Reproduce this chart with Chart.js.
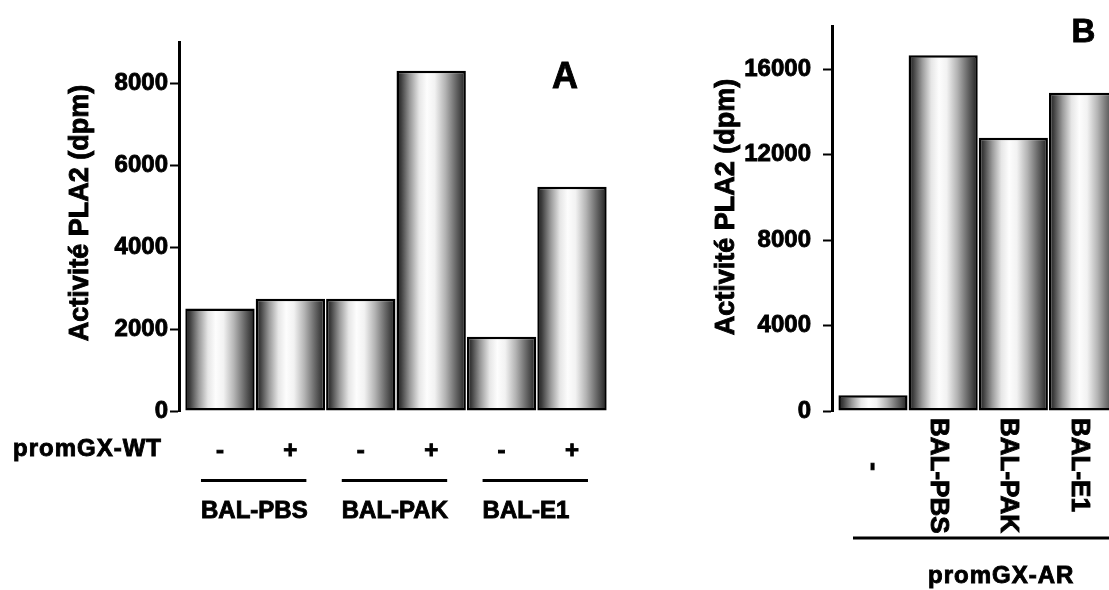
<!DOCTYPE html>
<html>
<head>
<meta charset="utf-8">
<script src="https://cdn.jsdelivr.net/npm/chart.js@4.4.1/dist/chart.umd.min.js"></script>
<style>
  html, body { margin: 0; padding: 0; background: #fff; overflow: hidden; }
  #wrap { position: relative; width: 1109px; height: 590px; background: #fff; }
  #cA { position: absolute; left: 0; top: 0; }
  #cB { position: absolute; left: 680px; top: 0; }
</style>
</head>
<body>
<div id="wrap">
  <canvas id="cA" width="620" height="590"></canvas>
  <canvas id="cB" width="429" height="590"></canvas>
</div>
<script>
// ---------- DATA ----------
const yTitle = 'Activité PLA2 (dpm)';
// Panel A
const aPanelLabel = 'A';
const aRowLabel = 'promGX-WT';
const aPromWT = ['-', '+', '-', '+', '-', '+'];
const aGroups = ['BAL-PBS', 'BAL-PAK', 'BAL-E1'];
const aValues = [2500, 2740, 2740, 8300, 1810, 5470];
const aTicks = [0, 2000, 4000, 6000, 8000];
const aMax = 9000;
// Panel B
const bPanelLabel = 'B';
const bCategories = ['-', 'BAL-PBS', 'BAL-PAK', 'BAL-E1'];
const bValues = [740, 16650, 12790, 14900];
const bTicks = [0, 4000, 8000, 12000, 16000];
const bMax = 18000;
const bAxisLabel = 'promGX-AR';

// ---------- helpers ----------
const FONT = '"Liberation Sans", Arial, sans-serif';
const STROKE = 0.9;
Chart.defaults.font.family = FONT;
Chart.defaults.color = '#000';

function barGradient(c) {
  const chart = c.chart;
  if (!chart.chartArea || c.type !== 'data') return '#cccccc';
  const xs = chart.scales.x;
  const cx = xs.getPixelForValue(c.dataIndex);
  const w = Math.abs(xs.getPixelForValue(1) - xs.getPixelForValue(0));
  const g = chart.ctx.createLinearGradient(cx - w / 2, 0, cx + w / 2, 0);
  g.addColorStop(0.00, '#1c1c1c');
  g.addColorStop(0.07, '#3c3c3c');
  g.addColorStop(0.20, '#9a9a9a');
  g.addColorStop(0.33, '#e6e6e6');
  g.addColorStop(0.44, '#fdfdfd');
  g.addColorStop(0.55, '#f2f2f2');
  g.addColorStop(0.70, '#b4b4b4');
  g.addColorStop(0.86, '#626262');
  g.addColorStop(1.00, '#1c1c1c');
  return g;
}

function makeOptions(cfg) {
  return {
    responsive: false,
    animation: false,
    devicePixelRatio: 1,
    layout: { padding: { top: cfg.top, bottom: 590 - 411, left: 0, right: cfg.right } },
    plugins: { legend: { display: false }, tooltip: { enabled: false } },
    scales: {
      x: {
        type: 'linear', display: false, offset: false, min: cfg.xmin, max: cfg.xmax,
        grid: { display: false, offset: false }
      },
      y: {
        min: 0, max: cfg.ymax,
        afterFit: (s) => { s.width = cfg.axisX; },
        afterBuildTicks: (s) => { s.ticks = cfg.ticks.map(v => ({ value: v })); },
        border: { display: true, color: '#000', width: 3 },
        grid: { display: true, drawOnChartArea: false, drawTicks: true, tickLength: 9, tickColor: '#000', tickWidth: 2, color: '#000' },
        ticks: {
          padding: cfg.tickPad, color: '#000',
          textStrokeColor: '#000', textStrokeWidth: STROKE,
          font: { family: FONT, size: 24, weight: 'bold' },
          callback: (v) => String(v)
        }
      }
    }
  };
}

function txt(ctx, s, x, y) {
  ctx.fillText(s, x, y);
  ctx.strokeText(s, x, y);
}

function drawRotatedTitle(ctx, x, y) {
  ctx.save();
  ctx.font = 'bold 27px ' + FONT;
  ctx.fillStyle = '#000';
  ctx.strokeStyle = '#000';
  ctx.lineWidth = STROKE;
  ctx.translate(x, y);
  ctx.rotate(-Math.PI / 2);
  ctx.textAlign = 'center';
  ctx.textBaseline = 'middle';
  txt(ctx, yTitle, 0, 0);
  ctx.restore();
}

// ---------- Panel A ----------
const extrasA = {
  id: 'extrasA',
  afterDraw(chart) {
    const ctx = chart.ctx, xs = chart.scales.x;
    drawRotatedTitle(ctx, 81, 213);
    ctx.save();
    ctx.fillStyle = '#000';
    ctx.strokeStyle = '#000';
    ctx.lineWidth = STROKE;
    ctx.font = 'bold 36px ' + FONT;
    ctx.textAlign = 'center';
    ctx.textBaseline = 'alphabetic';
    txt(ctx, aPanelLabel, 565, 88);
    ctx.font = 'bold 24px ' + FONT;
    ctx.letterSpacing = '1px';
    ctx.textAlign = 'left';
    txt(ctx, aRowLabel, 13, 456);
    ctx.letterSpacing = '0px';
    ctx.textAlign = 'center';
    aPromWT.forEach((s, i) => txt(ctx, s, xs.getPixelForValue(i), 458));
    aGroups.forEach((g, k) => {
      const x1 = xs.getPixelForValue(2 * k) - 19;
      const x2 = xs.getPixelForValue(2 * k + 1) + 16;
      ctx.lineWidth = 3;
      ctx.beginPath();
      ctx.moveTo(x1, 480.5);
      ctx.lineTo(x2, 480.5);
      ctx.stroke();
      ctx.lineWidth = STROKE;
      ctx.textAlign = 'left';
      txt(ctx, g, x1, 518);
    });
    ctx.restore();
  }
};

new Chart(document.getElementById('cA'), {
  type: 'bar',
  data: {
    datasets: [{
      data: aValues.map((v, i) => ({ x: i, y: v })),
      backgroundColor: barGradient,
      borderColor: '#000',
      borderWidth: 2.5,
      borderSkipped: false,
      barPercentage: 0.985,
      categoryPercentage: 1
    }]
  },
  options: makeOptions({ top: 42, right: 10, xmin: -0.582, xmax: 5.54, ymax: aMax, axisX: 179, ticks: aTicks, tickPad: 2 }),
  plugins: [extrasA]
});

// ---------- Panel B ----------
const extrasB = {
  id: 'extrasB',
  afterDraw(chart) {
    const ctx = chart.ctx, xs = chart.scales.x;
    drawRotatedTitle(ctx, 727 - 680, 207);
    ctx.save();
    ctx.fillStyle = '#000';
    ctx.strokeStyle = '#000';
    ctx.lineWidth = STROKE;
    ctx.font = 'bold 33px ' + FONT;
    ctx.textAlign = 'center';
    ctx.textBaseline = 'alphabetic';
    txt(ctx, bPanelLabel, 1083.5 - 680, 42);
    ctx.font = 'bold 26px ' + FONT;
    bCategories.forEach((lab, i) => {
      const cx = xs.getPixelForValue(i);
      ctx.save();
      if (lab === '-') {
        ctx.translate(cx - 7, 466.5);
        ctx.rotate(Math.PI / 2);
        ctx.textAlign = 'center';
      } else {
        ctx.translate(cx - 12, 418);
        ctx.rotate(Math.PI / 2);
        ctx.textAlign = 'left';
      }
      txt(ctx, lab, 0, 0);
      ctx.restore();
    });
    ctx.lineWidth = 3;
    ctx.beginPath();
    ctx.moveTo(853 - 680, 538);
    ctx.lineTo(chart.width, 538);
    ctx.stroke();
    ctx.lineWidth = STROKE;
    ctx.font = 'bold 24px ' + FONT;
    ctx.letterSpacing = '1px';
    ctx.textAlign = 'left';
    txt(ctx, bAxisLabel, 928 - 680, 583);
    ctx.letterSpacing = '0px';
    ctx.restore();
  }
};

new Chart(document.getElementById('cB'), {
  type: 'bar',
  data: {
    datasets: [{
      data: bValues.map((v, i) => ({ x: i, y: v })),
      backgroundColor: barGradient,
      borderColor: '#000',
      borderWidth: 2.5,
      borderSkipped: false,
      barPercentage: 0.985,
      categoryPercentage: 1
    }]
  },
  options: makeOptions({ top: 23, right: 0, xmin: -0.584, xmax: 3.363, ymax: bMax, axisX: 152, ticks: bTicks, tickPad: 12 }),
  plugins: [extrasB]
});
</script>
</body>
</html>
